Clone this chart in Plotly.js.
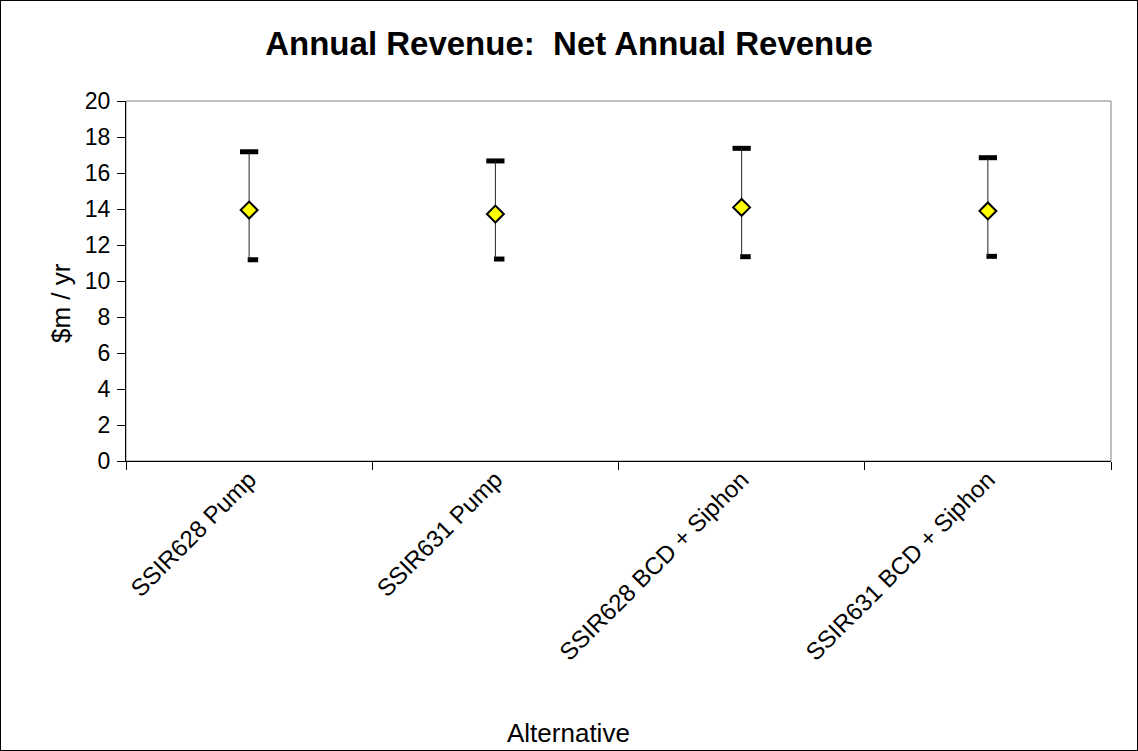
<!DOCTYPE html>
<html>
<head>
<meta charset="utf-8">
<script src="https://cdn.plot.ly/plotly-3.0.1.min.js"></script>
<style>
  html, body { margin: 0; padding: 0; background: #fff; }
  #chart { width: 1138px; height: 751px; box-sizing: border-box; border: 1px solid #000; }
</style>
</head>
<body>
<div id="chart"></div>
<script>
// ---- data ----
const categories = ["SSIR628 Pump", "SSIR631 Pump", "SSIR628 BCD + Siphon", "SSIR631 BCD + Siphon"];
const meanValues = [13.94, 13.72, 14.09, 13.89];
const highValues = [17.18, 16.67, 17.37, 16.85];
const lowValues  = [11.18, 11.22, 11.35, 11.37];
const yTickVals  = [0, 2, 4, 6, 8, 10, 12, 14, 16, 18, 20];

// ---- derived ----
const xIdx = categories.map((_, i) => i);
const boundaries = categories.map((_, i) => i - 0.5).concat([categories.length - 0.5]);
const lowCapShift = 0.0155; // small visual offset of the lower cap (as in original)
const font = "Liberation Sans, Arial, sans-serif";

const traces = [
  {
    type: "scatter", mode: "markers", x: xIdx, y: highValues,
    marker: { symbol: "line-ew", size: 13, color: "#000", line: { color: "#000", width: 5 } },
    hoverinfo: "skip", showlegend: false
  },
  {
    type: "scatter", mode: "markers", x: xIdx.map(v => v + lowCapShift), y: lowValues,
    marker: { symbol: "line-ew", size: 7.5, color: "#000", line: { color: "#000", width: 5 } },
    hoverinfo: "skip", showlegend: false
  },
  {
    type: "scatter", mode: "markers", x: xIdx, y: meanValues,
    error_y: {
      type: "data", symmetric: false,
      array: highValues.map((h, i) => h - meanValues[i]),
      arrayminus: lowValues.map((l, i) => meanValues[i] - l),
      width: 0, thickness: 1, color: "#222"
    },
    marker: { symbol: "diamond", size: 13, color: "#FFFF00", line: { color: "#000", width: 2 } },
    showlegend: false
  }
];

const plotW = 1136 - 125 - 26, plotH = 749 - 100 - 289;

const layout = {
  width: 1136, height: 749,
  margin: { l: 125, r: 26, t: 100, b: 289, pad: 0 },
  paper_bgcolor: "#fff", plot_bgcolor: "#fff",
  font: { family: font, color: "#000", size: 24 },
  title: {
    text: "Annual Revenue:\u00a0\u00a0Net Annual Revenue",
    font: { family: font, size: 33, weight: "bold", color: "#000" },
    x: 0.5, xref: "container", y: 1 - 42 / 749, yref: "container", yanchor: "middle"
  },
  xaxis: {
    range: [-0.5, categories.length - 0.5],
    tickmode: "array", tickvals: xIdx, ticktext: categories,
    ticks: "", tickangle: -45, ticklabelstandoff: -6,
    tickfont: { family: font, size: 24, color: "#000" },
    minor: { tickmode: "array", tickvals: boundaries, ticks: "outside", ticklen: 8, tickcolor: "#000", tickwidth: 1, showgrid: false },
    showline: true, linecolor: "#000", linewidth: 1,
    showgrid: false, zeroline: false, fixedrange: true
  },
  xaxis2: {
    overlaying: "x", anchor: "y", side: "bottom",
    range: [-0.5, categories.length - 0.5],
    tickmode: "array", tickvals: boundaries,
    ticks: "inside", ticklen: 7, tickcolor: "#000", tickwidth: 1,
    showticklabels: false, showline: false, showgrid: false, zeroline: false
  },
  yaxis: {
    range: [0, 20], tickmode: "array", tickvals: yTickVals,
    ticks: "outside", ticklen: 8, tickcolor: "#000", tickwidth: 1,
    tickfont: { family: font, size: 23, color: "#000" },
    ticklabelstandoff: 2,
    showline: true, linecolor: "#000", linewidth: 1,
    showgrid: false, zeroline: false, fixedrange: true
  },
  yaxis2: {
    overlaying: "y", anchor: "x", side: "left",
    range: [0, 20], tickmode: "array", tickvals: yTickVals,
    ticks: "inside", ticklen: 7, tickcolor: "#000", tickwidth: 1,
    showticklabels: false, showline: false, showgrid: false, zeroline: false
  },
  shapes: [
    { type: "rect", xref: "paper", yref: "paper", x0: 0, x1: 1, y0: 0, y1: 1,
      line: { color: "#808080", width: 1 }, layer: "below" }
  ],
  annotations: [
    { text: "Alternative", xref: "paper", yref: "paper",
      x: (567 - 125) / plotW, y: -(733 - 461) / plotH,
      xanchor: "center", yanchor: "middle", showarrow: false,
      font: { family: font, size: 26, color: "#000" } },
    { text: "$m / yr", xref: "paper", yref: "paper", textangle: -90,
      x: (60 - 125) / plotW, y: (461 - 303) / plotH,
      xanchor: "center", yanchor: "middle", showarrow: false,
      font: { family: font, size: 26, color: "#000" } }
  ]
};

Plotly.newPlot("chart", traces, layout, { displayModeBar: false, staticPlot: true });
</script>
</body>
</html>
